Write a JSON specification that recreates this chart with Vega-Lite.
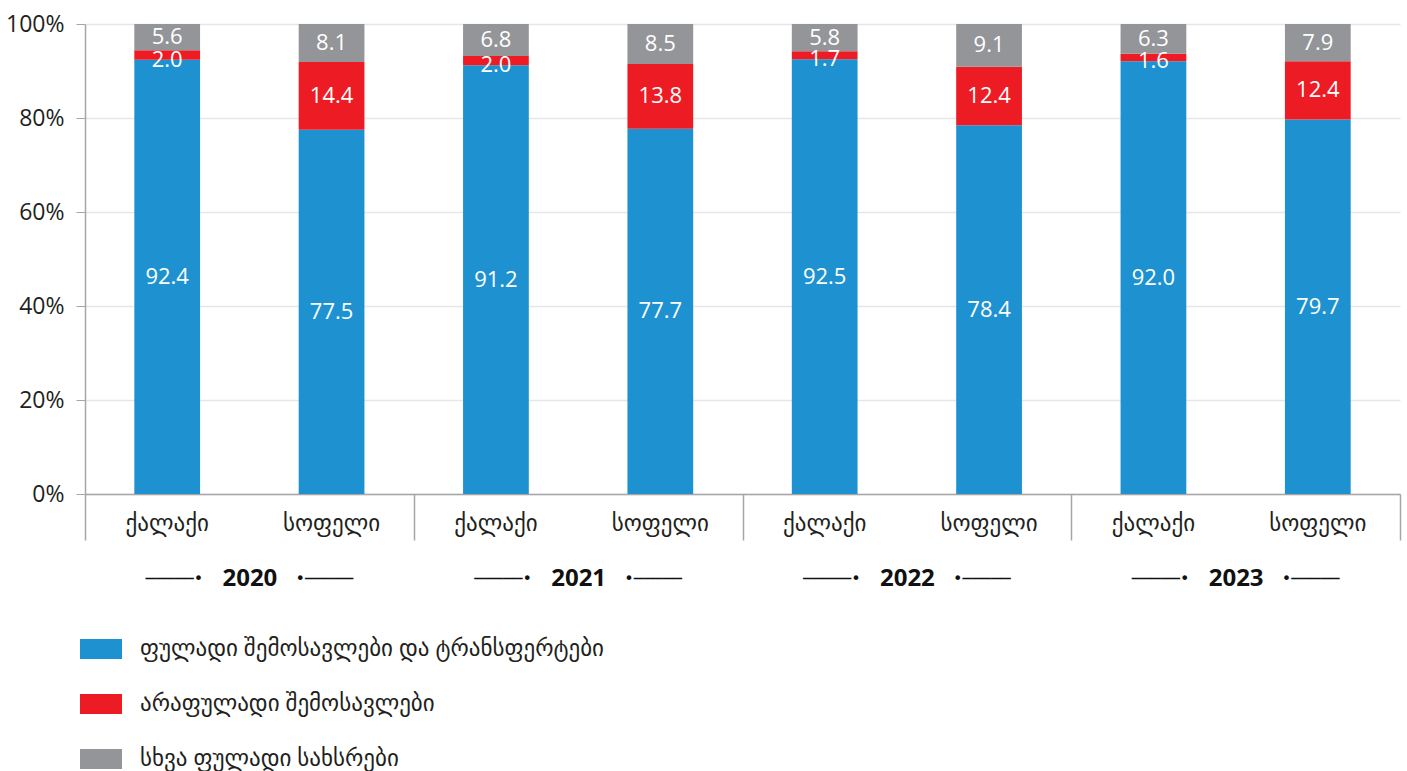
{
  "$schema": "https://vega.github.io/schema/vega-lite/v6.json",
  "width": 1315,
  "height": 470,
  "autosize": {"type": "none"},
  "padding": {"left": 85, "top": 24, "right": 7, "bottom": 277},
  "background": "white",
  "config": {
    "view": {"stroke": null},
    "font": "Open Sans, DejaVu Sans",
    "axis": {"labelColor": "#231f20", "domainColor": "#a6a6a6", "tickColor": "#a6a6a6", "gridColor": "#e6e6e6", "title": null}
  },
  "data": {
    "values": [
      {"year": "2020", "place": "ქალაქი", "cat": "ფულადი შემოსავლები და ტრანსფერტები", "value": 92.4},
      {"year": "2020", "place": "ქალაქი", "cat": "არაფულადი შემოსავლები", "value": 2.0},
      {"year": "2020", "place": "ქალაქი", "cat": "სხვა ფულადი სახსრები", "value": 5.6},
      {"year": "2020", "place": "სოფელი", "cat": "ფულადი შემოსავლები და ტრანსფერტები", "value": 77.5},
      {"year": "2020", "place": "სოფელი", "cat": "არაფულადი შემოსავლები", "value": 14.4},
      {"year": "2020", "place": "სოფელი", "cat": "სხვა ფულადი სახსრები", "value": 8.1},
      {"year": "2021", "place": "ქალაქი", "cat": "ფულადი შემოსავლები და ტრანსფერტები", "value": 91.2},
      {"year": "2021", "place": "ქალაქი", "cat": "არაფულადი შემოსავლები", "value": 2.0},
      {"year": "2021", "place": "ქალაქი", "cat": "სხვა ფულადი სახსრები", "value": 6.8},
      {"year": "2021", "place": "სოფელი", "cat": "ფულადი შემოსავლები და ტრანსფერტები", "value": 77.7},
      {"year": "2021", "place": "სოფელი", "cat": "არაფულადი შემოსავლები", "value": 13.8},
      {"year": "2021", "place": "სოფელი", "cat": "სხვა ფულადი სახსრები", "value": 8.5},
      {"year": "2022", "place": "ქალაქი", "cat": "ფულადი შემოსავლები და ტრანსფერტები", "value": 92.5},
      {"year": "2022", "place": "ქალაქი", "cat": "არაფულადი შემოსავლები", "value": 1.7},
      {"year": "2022", "place": "ქალაქი", "cat": "სხვა ფულადი სახსრები", "value": 5.8},
      {"year": "2022", "place": "სოფელი", "cat": "ფულადი შემოსავლები და ტრანსფერტები", "value": 78.4},
      {"year": "2022", "place": "სოფელი", "cat": "არაფულადი შემოსავლები", "value": 12.4},
      {"year": "2022", "place": "სოფელი", "cat": "სხვა ფულადი სახსრები", "value": 9.1},
      {"year": "2023", "place": "ქალაქი", "cat": "ფულადი შემოსავლები და ტრანსფერტები", "value": 92.0},
      {"year": "2023", "place": "ქალაქი", "cat": "არაფულადი შემოსავლები", "value": 1.6},
      {"year": "2023", "place": "ქალაქი", "cat": "სხვა ფულადი სახსრები", "value": 6.3},
      {"year": "2023", "place": "სოფელი", "cat": "ფულადი შემოსავლები და ტრანსფერტები", "value": 79.7},
      {"year": "2023", "place": "სოფელი", "cat": "არაფულადი შემოსავლები", "value": 12.4},
      {"year": "2023", "place": "სოფელი", "cat": "სხვა ფულადი სახსრები", "value": 7.9}
    ]
  },
  "transform": [
    {"calculate": "datum.year + '|' + datum.place", "as": "key"},
    {"calculate": "indexof(['ფულადი შემოსავლები და ტრანსფერტები', 'არაფულადი შემოსავლები', 'სხვა ფულადი სახსრები'], datum.cat)", "as": "ord"},
    {"stack": "value", "groupby": ["key"], "sort": [{"field": "ord", "order": "ascending"}], "offset": "normalize", "as": ["y0", "y1"]},
    {"calculate": "datum.value < 3 ? datum.y0 : (datum.y0 + datum.y1) / 2", "as": "ly"}
  ],
  "resolve": {"scale": {"x": "independent"}, "axis": {"x": "independent"}},
  "layer": [
    {
      "layer": [
        {
          "mark": {"type": "bar"},
          "encoding": {
            "x": {
              "field": "key", "type": "nominal", "sort": null,
              "scale": {"type": "band", "paddingInner": 0.6, "paddingOuter": 0.3},
              "axis": {"orient": "bottom", "ticks": false, "tickSize": 0, "domainWidth": 1.5, "labelAngle": 0, "labelFontSize": 23, "labelBaseline": "middle", "labelPadding": 29, "labelExpr": "split(datum.label, '|')[1]"}
            },
            "y": {
              "field": "y0", "type": "quantitative", "stack": null,
              "scale": {"domain": [0, 1]},
              "axis": {"format": ".0%", "values": [0, 0.2, 0.4, 0.6, 0.8, 1], "labelOverlap": false, "labelFlush": false, "labelFontSize": 23, "tickSize": 9, "labelPadding": 12, "domainWidth": 1.5, "gridWidth": 1.5, "labelBaseline": "middle"}
            },
            "y2": {"field": "y1"},
            "color": {
              "field": "cat", "type": "nominal",
              "scale": {"domain": ["ფულადი შემოსავლები და ტრანსფერტები", "არაფულადი შემოსავლები", "სხვა ფულადი სახსრები"], "range": ["#1e92d1", "#ed1c24", "#939598"]},
              "legend": {"orient": "none", "legendX": -5, "legendY": 604, "direction": "vertical", "title": null, "padding": 0, "symbolType": "M-1,-0.48H1V0.48H-1Z", "symbolSize": 1764, "symbolStrokeWidth": 0, "labelFontSize": 23, "labelOffset": 18, "rowPadding": 22, "labelColor": "#231f20", "labelLimit": 900}
            },
            "order": {"field": "ord"}
          }
        },
        {
          "mark": {"type": "text", "color": "white", "fontSize": 22, "baseline": "middle"},
          "encoding": {
            "x": {"field": "key", "type": "nominal", "sort": null, "scale": {"type": "band", "paddingInner": 0.6, "paddingOuter": 0.3}},
            "y": {"field": "ly", "type": "quantitative", "stack": null},
            "text": {"field": "value", "type": "quantitative", "format": ".1f"}
          }
        }
      ]
    },
    {
      "mark": {"type": "bar", "opacity": 0},
      "encoding": {
        "x": {
          "field": "year", "type": "nominal",
          "scale": {"type": "band", "paddingInner": 0, "paddingOuter": 0},
          "axis": {"orient": "bottom", "domain": false, "grid": false, "ticks": true, "tickBand": "extent", "tickSize": 46, "tickWidth": 1.5, "labelAngle": 0, "labelFontSize": 24, "labelFontWeight": "bold", "labelColor": "#111111", "labelBaseline": "middle", "labelPadding": 38}
        }
      }
    },
    {
      "mark": {"type": "bar", "opacity": 0},
      "encoding": {
        "x": {
          "field": "year", "type": "nominal",
          "scale": {"type": "band", "paddingInner": 0, "paddingOuter": 0},
          "axis": {"orient": "bottom", "domain": false, "grid": false, "ticks": false, "tickSize": 0, "labelAngle": 0, "labelFont": "DejaVu Sans", "labelFontSize": 16, "labelColor": "#111111", "labelBaseline": "middle", "labelPadding": 84, "labelOffset": -75, "labelLimit": 500, "labelOverlap": false, "labelExpr": "'─────•'"}
        }
      }
    },
    {
      "mark": {"type": "bar", "opacity": 0},
      "encoding": {
        "x": {
          "field": "year", "type": "nominal",
          "scale": {"type": "band", "paddingInner": 0, "paddingOuter": 0},
          "axis": {"orient": "bottom", "domain": false, "grid": false, "ticks": false, "tickSize": 0, "labelAngle": 0, "labelFont": "DejaVu Sans", "labelFontSize": 16, "labelColor": "#111111", "labelBaseline": "middle", "labelPadding": 84, "labelOffset": 75, "labelLimit": 500, "labelOverlap": false, "labelExpr": "'•─────'"}
        }
      }
    }
  ]
}
